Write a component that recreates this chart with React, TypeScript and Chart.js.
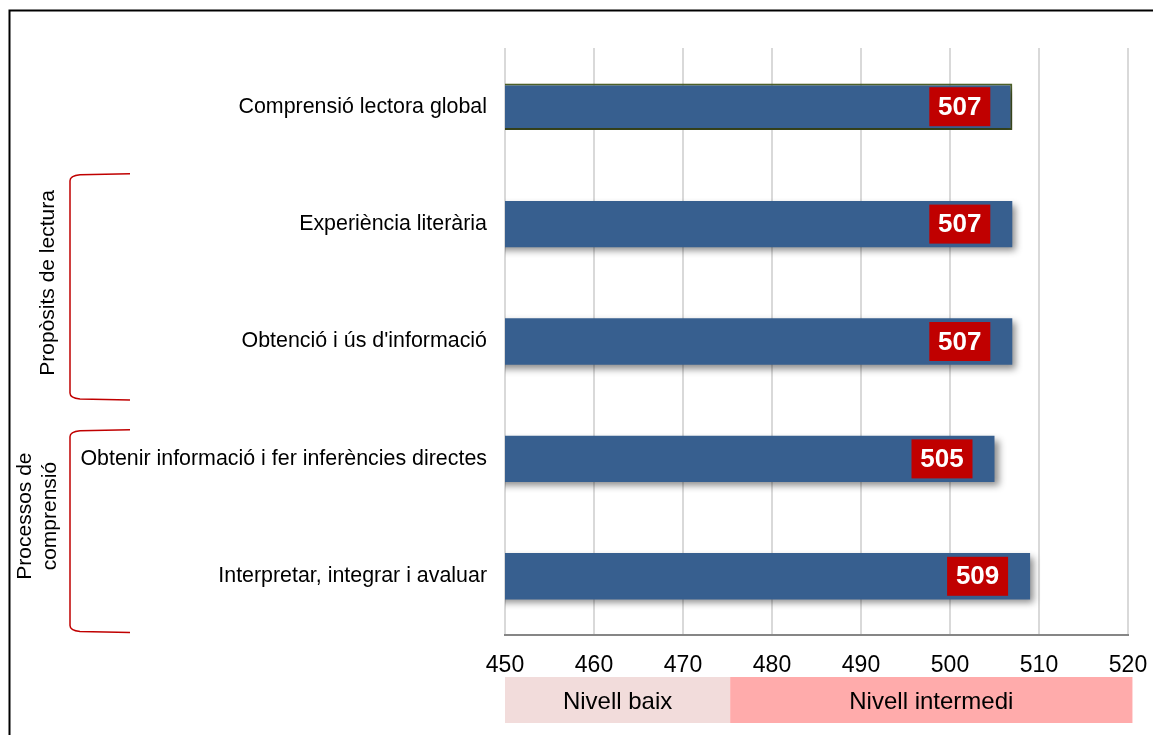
import React, { useEffect, useRef } from "react";
import { Chart, registerables } from "chart.js";

Chart.register(...registerables);

const categories = [
  "Comprensió lectora global",
  "Experiència literària",
  "Obtenció i ús d'informació",
  "Obtenir informació i fer inferències directes",
  "Interpretar, integrar i avaluar",
];
const scores = [507, 507, 507, 505, 509];
const xTicks = [450, 460, 470, 480, 490, 500, 510, 520];
const bandLabels = ["Nivell baix", "Nivell intermedi"];
const bandStarts = [450, 475.3];
const bandEnds = [475.3, 520.5];
const bandColors = ["#F2DCDB", "#FFABAB"];
const groupLabels = [["Propòsits de lectura"], ["Processos de", "comprensió"]];
const groupFrom = [0.58, 2.76];
const groupTo = [2.49, 4.47];

const SANS = "'Liberation Sans', Arial, sans-serif";

export default function App() {
  const ref = useRef<HTMLCanvasElement | null>(null);

  useEffect(() => {
    const canvas = ref.current;
    if (!canvas) return;

    const shadowPlugin = {
      id: "shadow",
      beforeDatasetsDraw(chart: any) {
        const ctx = chart.ctx;
        ctx.save();
        ctx.shadowColor = "rgba(0,0,0,0.45)";
        ctx.shadowBlur = 7;
        ctx.shadowOffsetX = 4;
        ctx.shadowOffsetY = 4;
      },
      afterDatasetsDraw(chart: any) {
        chart.ctx.restore();
      },
    };

    const decoPlugin = {
      id: "deco",
      afterDraw(chart: any) {
        const ctx = chart.ctx;
        const xs = chart.scales.x;
        const ys = chart.scales.y;
        const meta = chart.getDatasetMeta(0);

        // data labels
        ctx.save();
        ctx.font = "bold 26px " + SANS;
        ctx.textAlign = "center";
        ctx.textBaseline = "middle";
        meta.data.forEach((bar: any, i: number) => {
          const txt = String(scores[i]);
          const w = 61;
          const h = 39;
          const right = bar.x - 22;
          ctx.fillStyle = "#C00000";
          ctx.fillRect(right - w, bar.y - h / 2, w, h);
          ctx.fillStyle = "#FFFFFF";
          ctx.fillText(txt, right - w / 2, bar.y + 1);
        });
        ctx.restore();

        // level bands
        ctx.save();
        const bandTop = 677;
        const bandH = 46;
        bandLabels.forEach((lab, i) => {
          const x0 = xs.getPixelForValue(bandStarts[i]);
          const x1 = xs.getPixelForValue(bandEnds[i]);
          ctx.fillStyle = bandColors[i];
          ctx.fillRect(x0, bandTop, x1 - x0, bandH);
          ctx.font = "24px " + SANS;
          ctx.textAlign = "center";
          ctx.textBaseline = "middle";
          ctx.fillStyle = "#000";
          ctx.fillText(lab, (x0 + x1) / 2, bandTop + bandH / 2 + 2);
        });
        ctx.restore();

        // brackets and group labels
        ctx.save();
        ctx.strokeStyle = "#C00000";
        ctx.lineWidth = 1.5;
        groupLabels.forEach((lines, i) => {
          const y0 = ys.getPixelForValue(groupFrom[i]);
          const y1 = ys.getPixelForValue(groupTo[i]);
          const xv = 70;
          const xe = 130;
          ctx.beginPath();
          ctx.moveTo(xe, y0 - 1);
          ctx.lineTo(80, y0);
          ctx.quadraticCurveTo(xv, y0 + 1, xv, y0 + 6);
          ctx.lineTo(xv, y1 - 6);
          ctx.quadraticCurveTo(xv, y1 - 1, 80, y1);
          ctx.lineTo(xe, y1 + 1);
          ctx.stroke();

          ctx.save();
          const cy = (y0 + y1) / 2 + (i === 0 ? -4 : -15);
          const cx = lines.length === 1 ? 48 : 38;
          ctx.translate(cx, cy);
          ctx.rotate(-Math.PI / 2);
          ctx.fillStyle = "#000";
          ctx.font = "21px " + SANS;
          ctx.textAlign = "center";
          ctx.textBaseline = "middle";
          const lh = 25;
          lines.forEach((l, j) => {
            ctx.fillText(l, 0, (j - (lines.length - 1) / 2) * lh);
          });
          ctx.restore();
        });
        ctx.restore();

        // outer frame
        ctx.save();
        ctx.strokeStyle = "#000";
        ctx.lineWidth = 2;
        ctx.beginPath();
        ctx.moveTo(9.5, 735);
        ctx.lineTo(9.5, 10.5);
        ctx.lineTo(1153, 10.5);
        ctx.stroke();
        ctx.restore();
      },
    };

    const chart = new Chart(canvas, {
      type: "bar",
      data: {
        labels: categories,
        datasets: [
          {
            data: scores,
            backgroundColor: "#375F8F",
            borderColor: ["#4F6228", "#375F8F", "#375F8F", "#375F8F", "#375F8F"],
            borderWidth: [2, 0, 0, 0, 0],
            borderSkipped: false,
            categoryPercentage: 1,
            barPercentage: 0.395,
          },
        ],
      },
      options: {
        indexAxis: "y",
        animation: false,
        responsive: false,
        devicePixelRatio: 1,
        layout: { padding: { top: 48, right: 25, left: 0, bottom: 0 } },
        plugins: {
          legend: { display: false },
          tooltip: { enabled: false },
          title: { display: false },
        },
        scales: {
          x: {
            type: "linear",
            min: 450,
            max: 520,
            afterBuildTicks(scale: any) {
              scale.ticks = xTicks.map((v) => ({ value: v }));
            },
            afterFit(scale: any) {
              scale.height = 100;
            },
            grid: {
              color: "#D9D9D9",
              lineWidth: 2,
              tickColor: "rgba(0,0,0,0)",
              tickLength: 15,
              drawTicks: true,
            },
            border: { display: true, color: "#868686", width: 2 },
            ticks: {
              color: "#000",
              font: { size: 23, family: SANS },
              padding: 2,
            },
          },
          y: {
            afterFit(scale: any) {
              scale.width = 505;
            },
            grid: { display: false, drawTicks: false },
            border: { display: false },
            ticks: {
              color: "#000",
              font: { size: 21.4, family: SANS },
              padding: 18,
            },
          },
        },
      },
      plugins: [shadowPlugin, decoPlugin],
    } as any);

    return () => chart.destroy();
  }, []);

  return (
    <div style={{ position: "absolute", left: 0, top: 0, width: 1153, height: 735 }}>
      <canvas ref={ref} width={1153} height={735} style={{ width: 1153, height: 735, display: "block" }} />
    </div>
  );
}
